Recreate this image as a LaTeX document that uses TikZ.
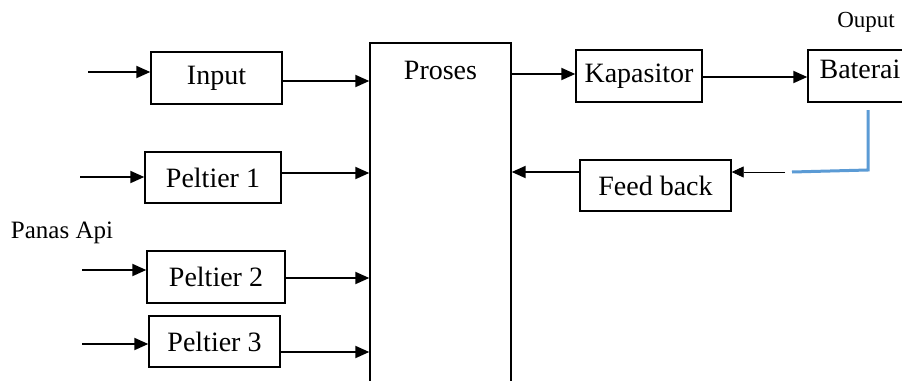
\documentclass[tikz,border=0pt]{standalone}
\usepackage{fontspec}
\setmainfont{Liberation Serif}
\usetikzlibrary{arrows.meta}
\begin{document}
\begin{tikzpicture}[
    x=0.5pt, y=-0.5pt,
    font=\fontsize{14}{16}\selectfont,
    box/.style={rectangle, draw, line width=0.7pt, inner sep=0pt, align=center},
    arrow/.style={-{Triangle[length=7pt,width=6pt]}, line width=1pt},
    thinarrow/.style={-{Triangle[length=6pt,width=5.5pt]}, line width=0.4pt}
]
\clip (0,0) rectangle (902,381);
\fill[white] (0,0) rectangle (902,381);

\node[box, minimum width=65.5pt, minimum height=26pt] (input) at (216.5,78) {Input};
\node[box, minimum width=68pt, minimum height=25.5pt] (peltier1) at (213,177.5) {Peltier 1};
\node[box, minimum width=69pt, minimum height=26pt] (peltier2) at (216,277) {Peltier 2};
\node[box, minimum width=65.5pt, minimum height=25.5pt] (peltier3) at (214.5,341.5) {Peltier 3};
\node[box, minimum width=70.5pt, minimum height=178.5pt,
      label={[anchor=north, yshift=-6pt]north:Proses}] (proses) at (440.5,221.5) {};
\node[box, minimum width=63pt, minimum height=26pt] (kapasitor) at (639,76) {Kapasitor};
\node[box, minimum width=52pt, minimum height=26pt,
      label={[anchor=north, yshift=-2pt]north:Baterai}] (baterai) at (860,76) {};
\node[box, minimum width=75.5pt, minimum height=25.5pt] (feedback) at (655.5,185.5) {Feed back};

\node (ouput) at (866,22) {\fontsize{11.5}{13}\selectfont Ouput};
\node (panas) at (62,233) {\fontsize{12.5}{14}\selectfont Panas Api};

\coordinate (in1) at (88,72);
\coordinate (in2) at (80,177);
\coordinate (in3) at (82,270);
\coordinate (in4) at (82,344);
\coordinate (bat1) at (868,110);
\coordinate (bat2) at (868,170);
\coordinate (bat3) at (792,172);
\coordinate (fb1) at (785,172);

% inputs
\draw[arrow] (in1) -- (input.west |- in1);
\draw[arrow] (in2) -- (peltier1.west |- in2);
\draw[arrow] (in3) -- (peltier2.west |- in3);
\draw[arrow] (in4) -- (peltier3.west |- in4);

% into proses
\draw[arrow] (input.east |- 0,81) -- (proses.west |- 0,81);
\draw[arrow] (peltier1.east |- 0,173) -- (proses.west |- 0,173);
\draw[arrow] (peltier2.east |- 0,278) -- (proses.west |- 0,278);
\draw[arrow] (peltier3.east |- 0,352) -- (proses.west |- 0,352);

% output side
\draw[arrow] (proses.east |- 0,74) -- (kapasitor.west |- 0,74);
\draw[arrow] (kapasitor.east |- 0,77) -- (baterai.west |- 0,77);
\draw[arrow] (feedback.west |- fb1) -- (proses.east |- fb1);
\draw[thinarrow] (fb1) -- (feedback.east |- fb1);
\draw[line width=1.5pt, color={rgb,255:red,91;green,155;blue,213}] (bat1) -- (bat2) -- (bat3);
\end{tikzpicture}
\end{document}
